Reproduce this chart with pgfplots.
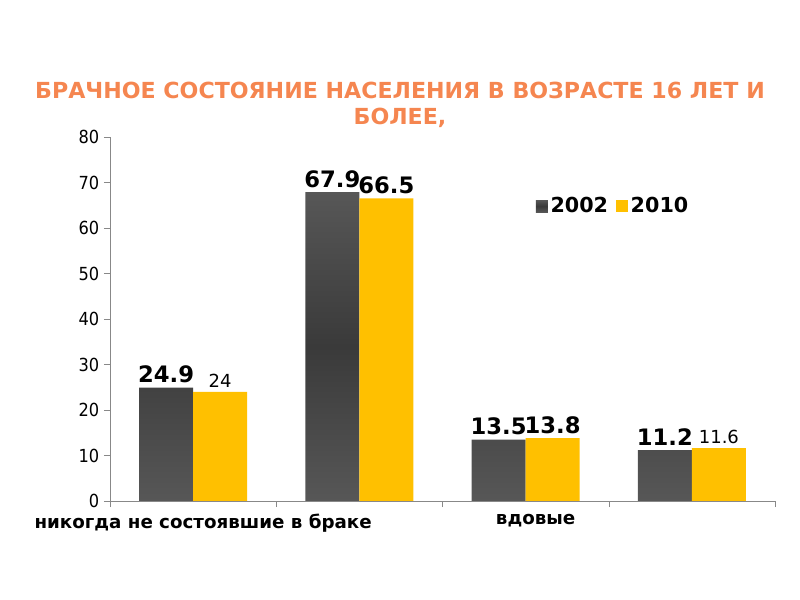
\documentclass[border=0pt]{standalone}
\usepackage{fontspec}
\setmainfont{DejaVu Sans}
\newfontfamily\condf{DejaVu Sans Condensed}
\usepackage{pgfplots}
\pgfplotsset{compat=1.18}
\definecolor{darkbar}{HTML}{575757}
\definecolor{darkmid}{HTML}{3A3A3A}
\definecolor{yel}{HTML}{FFC000}
\definecolor{ttl}{HTML}{F58650}
\definecolor{axgray}{HTML}{888888}
\newcommand\BL[1]{{\fontsize{17}{19}\selectfont\bfseries #1}}
\newcommand\SL[1]{{\fontsize{13.5}{15}\selectfont #1}}
\begin{document}
\begin{tikzpicture}
\path[use as bounding box] (0,0) rectangle (600pt,450pt);
\node[text=ttl, font=\bfseries\fontsize{16.6}{19.5}\selectfont, align=center] at (300pt,371pt)
  {БРАЧНОЕ СОСТОЯНИЕ НАСЕЛЕНИЯ В ВОЗРАСТЕ 16 ЛЕТ И\\БОЛЕЕ,};
\begin{axis}[
  at={(82.5pt,74.25pt)}, anchor=south west,
  scale only axis, width=498.75pt, height=273pt,
  ybar=0pt, bar width=0.325,
  xmin=-0.5, xmax=3.5, ymin=0, ymax=80,
  axis lines=left, axis line style={-, axgray},
  ytick={0,10,...,80},
  yticklabel style={font=\condf\fontsize{13.5}{15}\selectfont},
  /pgf/number format/assume math mode=true,
  ytick style={axgray}, tick align=outside, major tick length=4.5pt,
  xtick={0.06,2.06},
  xticklabels={никогда не состоявшие в браке, вдовые},
  xticklabel style={font=\bfseries\fontsize{13.7}{15}\selectfont, yshift=-2pt},
  x tick style={draw=none},
  extra x ticks={-0.5,0.5,1.5,2.5,3.5},
  extra x tick labels={},
  extra x tick style={x tick style={draw=axgray}, major tick length=4.5pt},
  point meta=explicit symbolic,
  nodes near coords,
  nodes near coords style={anchor=south, text=black},
  legend style={draw=none, fill=none, at={(0.757,0.81)}, anchor=center,
    legend columns=2, font=\bfseries\fontsize{15.5}{17}\selectfont,
    /tikz/every even column/.append style={column sep=4pt}},
  legend image code/.code={\path[#1] (0pt,-4.5pt) rectangle (9pt,4.5pt);},
]
\addplot[draw=none, top color=darkbar, bottom color=darkbar, middle color=darkmid]
  coordinates {(0,24.9) [\BL{24.9}] (1,67.9) [\BL{67.9}] (2,13.5) [\BL{13.5}] (3,11.2) [\BL{11.2}]};
\addplot[draw=none, fill=yel]
  coordinates {(0,24) [\SL{24}] (1,66.5) [\BL{66.5}] (2,13.8) [\BL{13.8}] (3,11.6) [\SL{11.6}]};
\legend{2002,2010}
\end{axis}
\end{tikzpicture}
\end{document}
